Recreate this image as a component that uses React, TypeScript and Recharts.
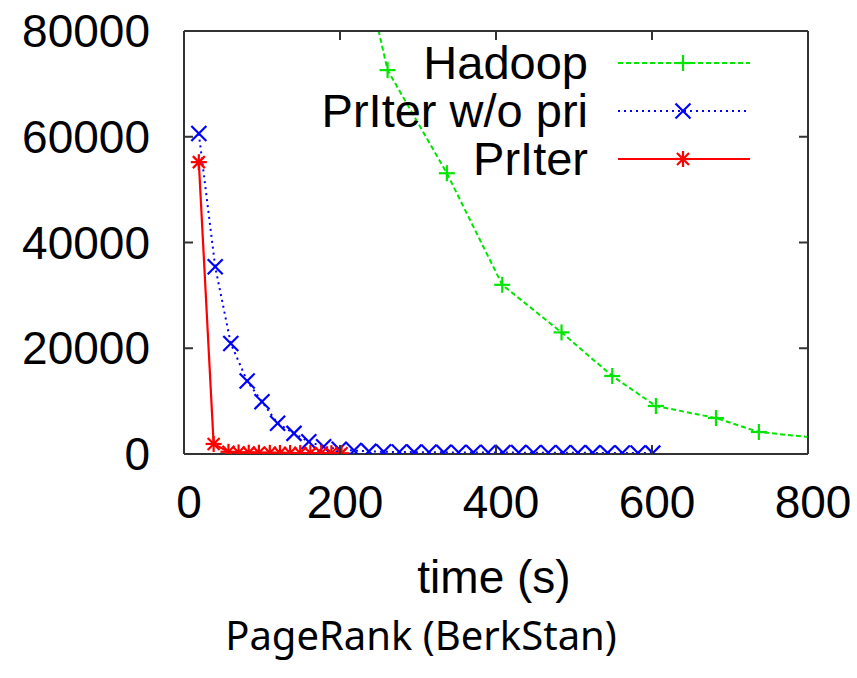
import React from 'react';
import { LineChart, Line, XAxis, YAxis } from 'recharts';

// time (s) vs. remaining difference
const hadoopTime = [188, 261, 337, 408, 484, 549, 605, 682, 737, 815];
const hadoopDiff = [120000, 72600, 53100, 32000, 23000, 14750, 9080, 6800, 4160, 3000];

const noPriTime = [
  19, 40, 60, 81, 100, 120, 141, 160, 179, 199, 218, 237, 256, 276, 295, 314,
  333, 352, 371, 390, 409, 429, 448, 467, 486, 505, 524, 543, 562, 582, 601,
];
const noPriDiff = [
  60600, 35400, 20900, 13800, 9900, 5800, 3900, 2300, 1380, 900, 650, 500, 420, 380, 350, 330,
  310, 300, 290, 280, 270, 260, 250, 240, 230, 220, 210, 200, 190, 180, 170,
];

const priterTime = [19, 38, 57, 70, 83, 96, 110, 123, 136, 149, 162, 176, 189, 202];
const priterDiff = [55200, 1900, 420, 300, 260, 240, 220, 200, 190, 180, 170, 160, 150, 140];

const xTicks = [0, 200, 400, 600, 800];
const yTicks = [0, 20000, 40000, 60000, 80000];

const toRows = (ts: number[], vs: number[]) => ts.map((t, i) => ({ time: t, value: vs[i] }));

const hadoopRows = toRows(hadoopTime, hadoopDiff);
const noPriRows = toRows(noPriTime, noPriDiff);
const priterRows = toRows(priterTime, priterDiff);

const FONT = '"Liberation Sans", Arial, sans-serif';
const GREEN = '#00e600';
const BLUE = '#0000ff';
const RED = '#ff0000';
const AXIS = '#333';
const AXIS_W = 2;
const TICK = 9;

function Plus({ cx, cy, color, s = 8 }: any) {
  return (
    <g stroke={color} strokeWidth={2.2}>
      <line x1={cx - s} x2={cx + s} y1={cy} y2={cy} />
      <line x1={cx} x2={cx} y1={cy - s} y2={cy + s} />
    </g>
  );
}

function Cross({ cx, cy, color, s = 7.5 }: any) {
  return (
    <g stroke={color} strokeWidth={2.2}>
      <line x1={cx - s} x2={cx + s} y1={cy - s} y2={cy + s} />
      <line x1={cx - s} x2={cx + s} y1={cy + s} y2={cy - s} />
    </g>
  );
}

function Star({ cx, cy, color }: any) {
  return (
    <g>
      <Plus cx={cx} cy={cy} color={color} s={8} />
      <Cross cx={cx} cy={cy} color={color} s={6} />
    </g>
  );
}

// ticks point into the plot on all four sides (gnuplot style)
const BottomTick = ({ x, y, payload }: any) => (
  <g>
    {payload.value !== 0 && payload.value !== 800 && (
      <line x1={x} x2={x} y1={y} y2={y - TICK} stroke={AXIS} strokeWidth={AXIS_W} />
    )}
    <text x={x + 5} y={y + 64} textAnchor="middle" fontSize={46} fontFamily={FONT} fill="#000">
      {payload.value}
    </text>
  </g>
);

const TopTick = ({ x, y, payload }: any) =>
  payload.value !== 0 && payload.value !== 800 ? (
    <line x1={x} x2={x} y1={y} y2={y + TICK} stroke={AXIS} strokeWidth={AXIS_W} />
  ) : (
    <g />
  );

const LeftTick = ({ x, y, payload }: any) => (
  <g>
    {payload.value !== 0 && payload.value !== 80000 && (
      <line x1={x} x2={x + TICK} y1={y} y2={y} stroke={AXIS} strokeWidth={AXIS_W} />
    )}
    <text x={x - 34} y={y + 16} textAnchor="end" fontSize={46} fontFamily={FONT} fill="#000">
      {payload.value}
    </text>
  </g>
);

const RightTick = ({ x, y, payload }: any) =>
  payload.value !== 0 && payload.value !== 80000 ? (
    <line x1={x} x2={x - TICK} y1={y} y2={y} stroke={AXIS} strokeWidth={AXIS_W} />
  ) : (
    <g />
  );

const legendItems = [
  { name: 'Hadoop', color: GREEN, dash: '5 3', marker: Plus, lineY: 63, textY: 79 },
  { name: 'PrIter w/o pri', color: BLUE, dash: '2 4', marker: Cross, lineY: 111, textY: 127 },
  { name: 'PrIter', color: RED, dash: undefined, marker: Star, lineY: 159, textY: 175 },
];

export default function App() {
  return (
    <div style={{ position: 'absolute', left: 0, top: 0, width: 857, height: 678, background: '#fff' }}>
      <LineChart width={857} height={678} margin={{ top: 30, right: 48, bottom: 0, left: 0 }}>
        <XAxis
          xAxisId="b"
          dataKey="time"
          type="number"
          domain={[0, 800]}
          ticks={xTicks}
          interval={0}
          allowDataOverflow
          height={224}
          tickLine={false}
          tickSize={0}
          tickMargin={0}
          axisLine={{ stroke: AXIS, strokeWidth: AXIS_W }}
          tick={(p: any) => <BottomTick {...p} />}
        />
        <XAxis
          xAxisId="t"
          orientation="top"
          dataKey="time"
          type="number"
          domain={[0, 800]}
          ticks={xTicks}
          interval={0}
          allowDataOverflow
          height={1}
          tickLine={false}
          tickSize={0}
          tickMargin={0}
          axisLine={{ stroke: AXIS, strokeWidth: AXIS_W }}
          tick={(p: any) => <TopTick {...p} />}
        />
        <YAxis
          yAxisId="l"
          type="number"
          domain={[0, 80000]}
          ticks={yTicks}
          interval={0}
          allowDataOverflow
          width={184}
          tickLine={false}
          tickSize={0}
          tickMargin={0}
          axisLine={{ stroke: AXIS, strokeWidth: AXIS_W }}
          tick={(p: any) => <LeftTick {...p} />}
        />
        <YAxis
          yAxisId="r"
          orientation="right"
          type="number"
          domain={[0, 80000]}
          ticks={yTicks}
          interval={0}
          allowDataOverflow
          width={1}
          tickLine={false}
          tickSize={0}
          tickMargin={0}
          axisLine={{ stroke: AXIS, strokeWidth: AXIS_W }}
          tick={(p: any) => <RightTick {...p} />}
        />
        {/* invisible series so the mirrored top/right axes get drawn */}
        <Line
          xAxisId="t"
          yAxisId="r"
          data={hadoopRows}
          dataKey="value"
          stroke="none"
          dot={false}
          activeDot={false}
          legendType="none"
          isAnimationActive={false}
        />
        <Line
          xAxisId="b"
          yAxisId="l"
          data={hadoopRows}
          dataKey="value"
          name="Hadoop"
          stroke={GREEN}
          strokeWidth={2}
          strokeDasharray="5 3"
          isAnimationActive={false}
          dot={(p: any) => <Plus key={`h-${p.index}`} cx={p.cx} cy={p.cy} color={GREEN} />}
        />
        <Line
          xAxisId="b"
          yAxisId="l"
          data={noPriRows}
          dataKey="value"
          name="PrIter w/o pri"
          stroke={BLUE}
          strokeWidth={2}
          strokeDasharray="2 4"
          isAnimationActive={false}
          dot={(p: any) => <Cross key={`n-${p.index}`} cx={p.cx} cy={p.cy} color={BLUE} />}
        />
        <Line
          xAxisId="b"
          yAxisId="l"
          data={priterRows}
          dataKey="value"
          name="PrIter"
          stroke={RED}
          strokeWidth={2.2}
          isAnimationActive={false}
          dot={(p: any) => <Star key={`p-${p.index}`} cx={p.cx} cy={p.cy} color={RED} />}
        />
      </LineChart>

      <svg
        width={857}
        height={678}
        style={{ position: 'absolute', left: 0, top: 0, pointerEvents: 'none' }}
      >
        {legendItems.map((it) => {
          const M = it.marker;
          return (
            <g key={it.name}>
              <text x={588} y={it.textY} textAnchor="end" fontSize={47} fontFamily={FONT} fill="#000">
                {it.name}
              </text>
              <line
                x1={618}
                x2={750}
                y1={it.lineY}
                y2={it.lineY}
                stroke={it.color}
                strokeWidth={2}
                strokeDasharray={it.dash}
              />
              <M cx={683} cy={it.lineY} color={it.color} />
            </g>
          );
        })}
        <text x={494} y={593} textAnchor="middle" fontSize={46} fontFamily={FONT} fill="#000">
          time (s)
        </text>
        <text x={421} y={650} textAnchor="middle" fontSize={40} fontFamily='"Noto Sans", sans-serif' fill="#000">
          PageRank (BerkStan)
        </text>
      </svg>
    </div>
  );
}
